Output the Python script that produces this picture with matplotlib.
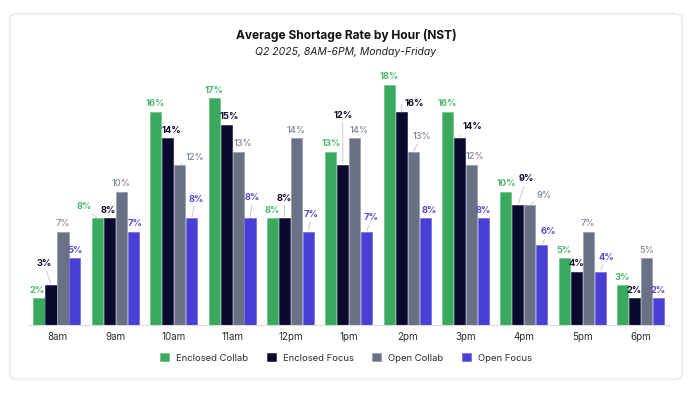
import matplotlib
matplotlib.use("Agg")
import matplotlib.pyplot as plt
from matplotlib.patches import FancyBboxPatch, Patch
import numpy as np

hours = ["8am", "9am", "10am", "11am", "12pm", "1pm", "2pm", "3pm", "4pm", "5pm", "6pm"]
series_names = ["Enclosed Collab", "Enclosed Focus", "Open Collab", "Open Focus"]
enclosed_collab = [2, 8, 16, 17, 8, 13, 18, 16, 10, 5, 3]
enclosed_focus = [3, 8, 14, 15, 8, 12, 16, 14, 9, 4, 2]
open_collab = [7, 10, 12, 13, 14, 14, 13, 12, 9, 7, 5]
open_focus = [5, 7, 8, 8, 7, 7, 8, 8, 6, 4, 2]
series_values = [enclosed_collab, enclosed_focus, open_collab, open_focus]

title = "Average Shortage Rate by Hour (NST)"
subtitle = "Q2 2025, 8AM-6PM, Monday-Friday"

# styles
bar_colors = ["#3aa95d", "#0b0a2e", "#6a7185", "#4a3fd4"]
edge_colors = ["#6cc88a", "#3a3960", "#9aa0b0", "#7b72e8"]
label_colors = ["#4cba6b", "#0b0a2e", "#7f8699", "#5548e0"]
label_weights = ["bold", "bold", "medium", "bold"]

# label placement (pixels): (dx from bar centre, height of label centre above bar top, leader style)
DEFAULT_UP = 7.8
label_place = {
    (0, 0): (-2, 7.6, None), (1, 0): (-6.7, 21, "line"),
    (3, 0): (0, 7.7, None),
    (0, 1): (-12.8, 11.7, "line"), (1, 1): (-1, 7.5, None), (3, 1): (2.3, 8.2, None),
    (1, 2): (3.7, 7.5, None), (2, 2): (15, 7.5, "line"), (3, 2): (4.2, 19.3, "line"),
    (0, 3): (0, 8.2, None), (1, 3): (3.5, 8.6, None), (2, 3): (4.8, 8.3, None),
    (3, 3): (2.6, 20.4, "line"),
    (1, 4): (0, 20, "line"), (3, 4): (3.2, 17.4, "line"),
    (0, 5): (0, 8.3, None), (1, 5): (0, 50, "line"), (2, 5): (4.3, 7.5, None),
    (3, 5): (4.8, 14, "line"),
    (0, 6): (0, 8.2, None), (1, 6): (12.7, 7.7, "hook"), (2, 6): (9, 15, "line"),
    (3, 6): (4.6, 7.5, None),
    (1, 7): (12.6, 11.6, "hook"), (2, 7): (3.5, 8.2, None),
    (0, 8): (0.7, 7.7, None), (1, 8): (8.8, 26.7, "line"), (2, 8): (14.2, 10, "line"),
    (3, 8): (6.2, 13.3, "line"),
    (3, 9): (5.8, 14.4, "line"),
}

plt.rcParams["font.family"] = ["Inter", "DejaVu Sans"]

W, H = 692, 393
fig = plt.figure(figsize=(W / 100, H / 100), dpi=100)
fig.patch.set_facecolor("white")

# card with subtle shadow
for k, a in enumerate([0.025, 0.015]):
    sh = FancyBboxPatch(((10 - k) / W, (14 - 1 - k) / H), (672 + 2 * k) / W, (365 + 1 + 2 * k) / H,
                        boxstyle="round,pad=0,rounding_size=0.012",
                        transform=fig.transFigure, facecolor="none",
                        edgecolor=(0, 0, 0, a), linewidth=1.2, zorder=0)
    fig.patches.append(sh)
card = FancyBboxPatch((10 / W, 14 / H), 672 / W, 365 / H,
                      boxstyle="round,pad=0,rounding_size=0.012",
                      transform=fig.transFigure, facecolor="white",
                      edgecolor="#e6e6e6", linewidth=0.8, zorder=0.5)
fig.patches.append(card)

ax = fig.add_axes([27.8 / W, 68 / H, 642 / W, 260 / H])
ax.set_zorder(2)
ax.set_facecolor("none")
x = np.arange(len(hours))
step = 0.205
bw = 0.19
ymax = 19.5
ax.set_xlim(-0.5, len(hours) - 0.5)
ax.set_ylim(0, ymax)

P = 0.72  # points per pixel at 100 dpi
for s, vals in enumerate(series_values):
    xs = x + (s - 1.5) * step
    ax.bar(xs, vals, width=bw, color=bar_colors[s], edgecolor=edge_colors[s],
           linewidth=0.6, zorder=2)
    for i, (xi, v) in enumerate(zip(xs, vals)):
        dx, up, leader = label_place.get((s, i), (0, DEFAULT_UP, None))
        kw = dict(ha="center", va="center", fontsize=6.7, color=label_colors[s],
                  fontweight=label_weights[s], zorder=4)
        if leader is None:
            ax.annotate(f"{v}%", xy=(xi, v), xytext=(dx * P, up * P),
                        textcoords="offset points", **kw)
        else:
            cs = "angle,angleA=0,angleB=90,rad=0" if leader == "hook" else "arc3"
            ax.annotate(f"{v}%", xy=(xi, v), xytext=(dx * P, up * P),
                        textcoords="offset points",
                        arrowprops=dict(arrowstyle="-", color="#c4c4c4", lw=0.6,
                                        shrinkA=0, shrinkB=0.8, connectionstyle=cs),
                        **kw)

for sp in ["top", "right", "left"]:
    ax.spines[sp].set_visible(False)
ax.spines["bottom"].set_color("#dcdcdc")
ax.spines["bottom"].set_linewidth(0.8)
ax.set_yticks([])
ax.set_xticks(x)
ax.set_xticklabels(hours, fontsize=7.0, color="#2a2a2a")
ax.tick_params(axis="x", length=0, pad=5)

fig.text(0.5, 1 - 36 / H, title, ha="center", va="center", fontsize=8.6,
         fontweight="bold", color="#111111")
fig.text(0.5, 1 - 52 / H, subtitle, ha="center", va="center", fontsize=7.5,
         style="italic", color="#222222")

handles = [Patch(facecolor=bar_colors[s], edgecolor=edge_colors[s], linewidth=0.6)
           for s in range(4)]
fig.legend(handles, series_names, loc="center", bbox_to_anchor=(0.5, 1 - 358 / H),
           ncol=4, frameon=False, fontsize=6.8, handlelength=0.95, handleheight=0.95,
           handletextpad=0.7, columnspacing=2.0, labelcolor="#2a2a2a")

fig.savefig("out.png", dpi=100)
